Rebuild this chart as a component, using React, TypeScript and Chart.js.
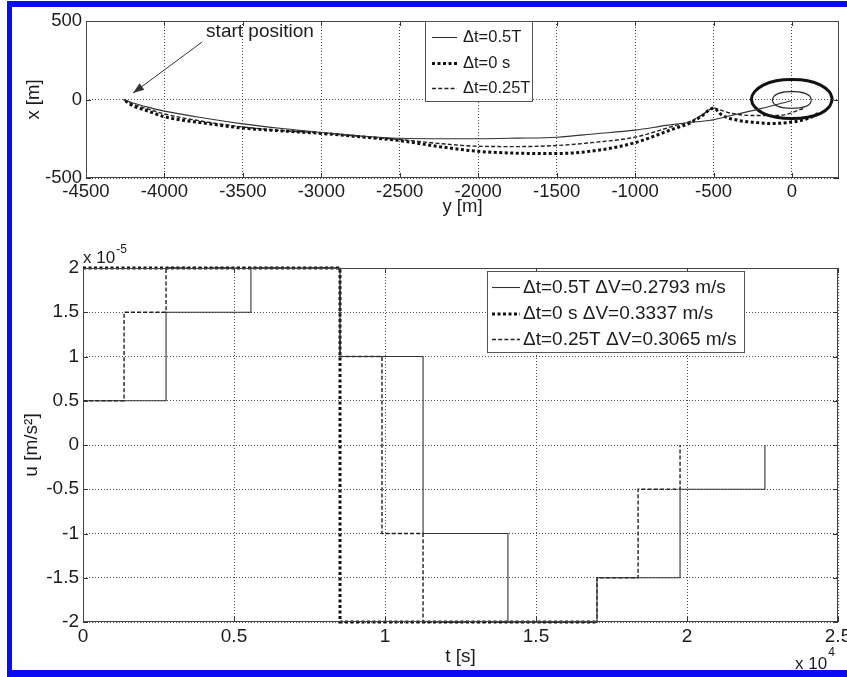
import React, { useEffect, useRef } from "react";
import { Chart, registerables } from "chart.js";

Chart.register(...registerables);

const FONT = "'Liberation Sans', Arial, Helvetica, sans-serif";
const INK = "#1c1c1c";

// ---------------- Top panel: trajectories (horizontal: y [m], vertical: x [m]) ----------------
const trajHorizTicks = [-4500, -4000, -3500, -3000, -2500, -2000, -1500, -1000, -500, 0];
const trajVertTicks = [-500, 0, 500];

// Δt = 0.5T (solid)
const halfTrajY = [-4260, -4200, -4100, -4000, -3750, -3500, -3250, -3000, -2750, -2500, -2250, -2000, -1750, -1500, -1250, -1000, -800, -650, -530, -400, -200, 0];
const halfTrajX = [0, -22, -50, -74, -118, -155, -185, -210, -232, -247, -250, -250, -246, -240, -218, -195, -165, -146, -134, -105, -58, -6];

// Δt = 0 s (dotted)
const zeroTrajY = [-4250, -4200, -4100, -4000, -3750, -3500, -3250, -3000, -2750, -2500, -2250, -2000, -1750, -1500, -1250, -1000, -750, -650, -575, -500, -446, -336, -233, -130, -22, 86, 170];
const zeroTrajX = [-8, -40, -75, -110, -150, -182, -200, -216, -238, -262, -300, -330, -342, -344, -325, -275, -185, -150, -105, -55, -100, -134, -146, -153, -146, -127, -89];

// Δt = 0.25T (dashed)
const quarterTrajY = [-4260, -4200, -4100, -4000, -3750, -3500, -3250, -3000, -2750, -2500, -2250, -2000, -1750, -1500, -1250, -1000, -750, -650, -575, -500, -440, -382, -233, -87, 77];
const quarterTrajX = [0, -30, -62, -92, -140, -175, -198, -213, -235, -255, -280, -298, -300, -293, -272, -240, -168, -140, -100, -55, -72, -89, -102, -102, -57];

// final relative orbits
const bigOrbitY = [258, 238, 183, 100, 0, -100, -183, -238, -258, -238, -183, -100, 0, 100, 183, 238, 258];
const bigOrbitX = [2, 50, 92, 120, 128, 120, 92, 50, 2, -46, -88, -113, -121, -113, -88, -46, 2];
const smallOrbitY = [124, 115, 88, 47, 0, -47, -88, -115, -124, -115, -88, -47, 0, 47, 88, 115, 124];
const smallOrbitX = [-3, 20, 38, 48, 51, 48, 38, 20, -3, -26, -44, -54, -57, -54, -44, -26, -3];

const trajLegend = ["\u0394t=0.5T", "\u0394t=0 s", "\u0394t=0.25T"];

// ---------------- Bottom panel: control (t in 1e4 s, u in 1e-5 m/s^2) ----------------
const ctrlTimeTicks = [0, 0.5, 1, 1.5, 2, 2.5];
const ctrlAccTicks = [-2, -1.5, -1, -0.5, 0, 0.5, 1, 1.5, 2];

const halfT_t = [0, 0.275, 0.556, 0.851, 1.126, 1.407, 1.702, 1.977, 2.258];
const halfT_u = [0.5, 1.5, 2, 1, -1, -2, -1.5, -0.5, 0];
const zero_t = [0, 0.851, 1.702];
const zero_u = [2, -2, -2];
const quarter_t = [0, 0.136, 0.275, 0.851, 0.99, 1.126, 1.702, 1.838, 1.977];
const quarter_u = [0.5, 1.5, 2, 1, -1, -2, -1.5, -0.5, 0];

const ctrlLegend = [
  "\u0394t=0.5T \u0394V=0.2793 m/s",
  "\u0394t=0 s \u0394V=0.3337 m/s",
  "\u0394t=0.25T \u0394V=0.3065 m/s",
];

const toPts = (xs: number[], ys: number[]) => xs.map((x, i) => ({ x, y: ys[i] }));

const SOLID = { borderColor: "#333", borderWidth: 1.1, borderDash: [] as number[] };
const DOTTED = { borderColor: "#111", borderWidth: 3, borderDash: [3, 2.5] };
const DASHED = { borderColor: "#222", borderWidth: 1.4, borderDash: [4, 2.2] };

function drawFrame(chart: any, tickLen: number) {
  const { ctx, chartArea: a, scales } = chart;
  ctx.save();
  ctx.setLineDash([]);
  ctx.strokeStyle = "#333";
  ctx.lineWidth = 1;
  ctx.beginPath();
  scales.x.ticks.forEach((t: any) => {
    const p = Math.round(scales.x.getPixelForValue(t.value)) + 0.5;
    ctx.moveTo(p, a.bottom);
    ctx.lineTo(p, a.bottom - tickLen);
    ctx.moveTo(p, a.top);
    ctx.lineTo(p, a.top + tickLen);
  });
  scales.y.ticks.forEach((t: any) => {
    const p = Math.round(scales.y.getPixelForValue(t.value)) + 0.5;
    ctx.moveTo(a.left, p);
    ctx.lineTo(a.left + tickLen, p);
    ctx.moveTo(a.right, p);
    ctx.lineTo(a.right - tickLen, p);
  });
  ctx.stroke();
  ctx.strokeStyle = "#444";
  ctx.strokeRect(a.left + 0.5, a.top + 0.5, a.right - a.left - 1, a.bottom - a.top - 1);
  ctx.restore();
}

function drawLegend(chart: any, cfg: any) {
  const { ctx } = chart;
  const [l, t, r, b] = cfg.box;
  ctx.save();
  ctx.setLineDash([]);
  ctx.fillStyle = "#fff";
  ctx.fillRect(l, t, r - l, b - t);
  ctx.strokeStyle = "#555";
  ctx.lineWidth = 1;
  ctx.strokeRect(l + 0.5, t + 0.5, r - l - 1, b - t - 1);
  const entries = chart.data.datasets.filter((d: any) => d.legendText);
  entries.forEach((d: any, i: number) => {
    const y = cfg.rows[i];
    ctx.strokeStyle = d.borderColor;
    ctx.lineWidth = d.borderWidth;
    ctx.setLineDash(d.borderDash || []);
    ctx.beginPath();
    ctx.moveTo(cfg.sample[0], y);
    ctx.lineTo(cfg.sample[1], y);
    ctx.stroke();
    ctx.setLineDash([]);
    ctx.fillStyle = INK;
    ctx.font = `${cfg.fontSize}px ${FONT}`;
    ctx.textAlign = "left";
    ctx.textBaseline = "middle";
    ctx.fillText(d.legendText, cfg.textX, y);
  });
  ctx.restore();
}

const topPlugin = {
  id: "topDecor",
  afterDraw(chart: any) {
    const { ctx, scales } = chart;
    drawFrame(chart, 5);
    // annotation
    ctx.save();
    const from = [scales.x.getPixelForValue(-3760), scales.y.getPixelForValue(366)];
    const to = [scales.x.getPixelForValue(-4200), scales.y.getPixelForValue(41)];
    ctx.strokeStyle = "#333";
    ctx.fillStyle = "#333";
    ctx.lineWidth = 1;
    ctx.setLineDash([]);
    ctx.beginPath();
    ctx.moveTo(from[0], from[1]);
    ctx.lineTo(to[0], to[1]);
    ctx.stroke();
    const ang = Math.atan2(to[1] - from[1], to[0] - from[0]);
    const L = 11, W = 4;
    ctx.beginPath();
    ctx.moveTo(to[0], to[1]);
    ctx.lineTo(to[0] - L * Math.cos(ang) + W * Math.sin(ang), to[1] - L * Math.sin(ang) - W * Math.cos(ang));
    ctx.lineTo(to[0] - L * Math.cos(ang) - W * Math.sin(ang), to[1] - L * Math.sin(ang) + W * Math.cos(ang));
    ctx.closePath();
    ctx.fill();
    ctx.fillStyle = INK;
    ctx.font = `19px ${FONT}`;
    ctx.textAlign = "center";
    ctx.textBaseline = "middle";
    ctx.fillText("start position", scales.x.getPixelForValue(-3391), scales.y.getPixelForValue(430));
    ctx.restore();
    drawLegend(chart, { box: [425, 21, 533, 102], rows: [37.5, 63.5, 88.5], sample: [432, 457], textX: 463, fontSize: 16.5 });
  },
};

const bottomPlugin = {
  id: "bottomDecor",
  afterDraw(chart: any) {
    const { ctx, chartArea: a } = chart;
    drawFrame(chart, 5);
    drawLegend(chart, { box: [487, 41, 745, 123], rows: [57.5, 84, 109.5], sample: [492, 520], textX: 523, fontSize: 19 });
    ctx.save();
    ctx.fillStyle = INK;
    ctx.textAlign = "left";
    ctx.textBaseline = "alphabetic";
    ctx.font = `17px ${FONT}`;
    ctx.fillText("x 10", a.left, a.top - 5);
    const w1 = ctx.measureText("x 10").width;
    ctx.font = `12px ${FONT}`;
    ctx.fillText("-5", a.left + w1 + 1, a.top - 15);
    ctx.font = `17px ${FONT}`;
    ctx.fillText("x 10", 795, 439);
    const w2 = ctx.measureText("x 10").width;
    ctx.font = `12px ${FONT}`;
    ctx.fillText("4", 795 + w2 + 1, 426);
    ctx.restore();
  },
};

function axis(ticksList: number[], min: number, max: number, size: number, fit: (s: any) => void, title: string, titlePad: any, position: string) {
  return {
    type: "linear",
    position,
    min,
    max,
    afterBuildTicks: (s: any) => {
      s.ticks = ticksList.map((v) => ({ value: v }));
    },
    afterFit: fit,
    grid: { color: "#4a4a4a", lineWidth: 1, drawTicks: false },
    border: { display: false, dash: [1, 2] },
    ticks: {
      font: { family: FONT, size },
      color: INK,
      padding: position === "left" ? 4 : 3,
      maxRotation: 0,
      autoSkip: false,
      callback: (v: any) => String(v),
    },
    title: { display: true, text: title, font: { family: FONT, size }, color: INK, padding: titlePad },
  };
}

export default function App() {
  const topRef = useRef<HTMLCanvasElement>(null);
  const botRef = useRef<HTMLCanvasElement>(null);

  useEffect(() => {
    const top = new Chart(topRef.current as HTMLCanvasElement, {
      type: "scatter",
      data: {
        datasets: [
          { ...SOLID, legendText: trajLegend[0], data: toPts(halfTrajY, halfTrajX), showLine: true, pointRadius: 0, cubicInterpolationMode: "monotone", clip: 6 },
          { ...DOTTED, legendText: trajLegend[1], data: toPts(zeroTrajY, zeroTrajX), showLine: true, pointRadius: 0, cubicInterpolationMode: "monotone", clip: 6 },
          { ...DASHED, legendText: trajLegend[2], data: toPts(quarterTrajY, quarterTrajX), showLine: true, pointRadius: 0, cubicInterpolationMode: "monotone", clip: 6 },
          { borderColor: "#111", borderWidth: 3, data: toPts(bigOrbitY, bigOrbitX), showLine: true, pointRadius: 0, tension: 0.4, clip: 6 },
          { borderColor: "#333", borderWidth: 1.3, data: toPts(smallOrbitY, smallOrbitX), showLine: true, pointRadius: 0, tension: 0.4, clip: 6 },
        ] as any,
      },
      options: {
        responsive: false,
        devicePixelRatio: 1,
        animation: false,
        events: [],
        layout: { padding: { left: 0, top: 21, right: 900 - 839, bottom: 0 } },
        plugins: { legend: { display: false }, tooltip: { enabled: false } },
        scales: {
          x: axis(trajHorizTicks, -4500, 300, 18.5, (s: any) => { s.height = 52; }, "y [m]", { top: 0, bottom: 11.5 }, "bottom"),
          y: axis(trajVertTicks, -500, 500, 18.5, (s: any) => { s.width = 86; }, "x [m]", { top: 23, bottom: 0 }, "left"),
        } as any,
      } as any,
      plugins: [topPlugin],
    });

    const bot = new Chart(botRef.current as HTMLCanvasElement, {
      type: "scatter",
      data: {
        datasets: [
          { ...SOLID, legendText: ctrlLegend[0], data: toPts(halfT_t, halfT_u), showLine: true, pointRadius: 0, stepped: true, clip: 6 },
          { ...DOTTED, legendText: ctrlLegend[1], data: toPts(zero_t, zero_u), showLine: true, pointRadius: 0, stepped: true, clip: 6 },
          { ...DASHED, legendText: ctrlLegend[2], data: toPts(quarter_t, quarter_u), showLine: true, pointRadius: 0, stepped: true, clip: 6 },
        ] as any,
      },
      options: {
        responsive: false,
        devicePixelRatio: 1,
        animation: false,
        events: [],
        layout: { padding: { left: 0, top: 38, right: 900 - 838, bottom: 0 } },
        plugins: { legend: { display: false }, tooltip: { enabled: false } },
        scales: {
          x: axis(ctrlTimeTicks, 0, 2.5, 19, (s: any) => { s.height = 55; }, "t [s]", { top: 0, bottom: 8.5 }, "bottom"),
          y: axis(ctrlAccTicks, -2, 2, 19, (s: any) => { s.width = 83; }, "u [m/s\u00B2]", { top: 20, bottom: 0 }, "left"),
        } as any,
      } as any,
      plugins: [bottomPlugin],
    });

    return () => {
      top.destroy();
      bot.destroy();
    };
  }, []);

  const blue = "#0a0af5";
  return (
    <div style={{ position: "absolute", left: 0, top: 0, width: 847, height: 677, overflow: "hidden", background: "#fff" }}>
      <canvas ref={topRef} width={900} height={230} style={{ position: "absolute", left: 0, top: 0 }} />
      <canvas ref={botRef} width={900} height={447} style={{ position: "absolute", left: 0, top: 230 }} />
      <div style={{ position: "absolute", left: 7, top: 1, width: 840, height: 6, background: blue }} />
      <div style={{ position: "absolute", left: 7, top: 1, width: 5, height: 676, background: blue }} />
      <div style={{ position: "absolute", left: 7, top: 670, width: 840, height: 7, background: blue }} />
    </div>
  );
}
